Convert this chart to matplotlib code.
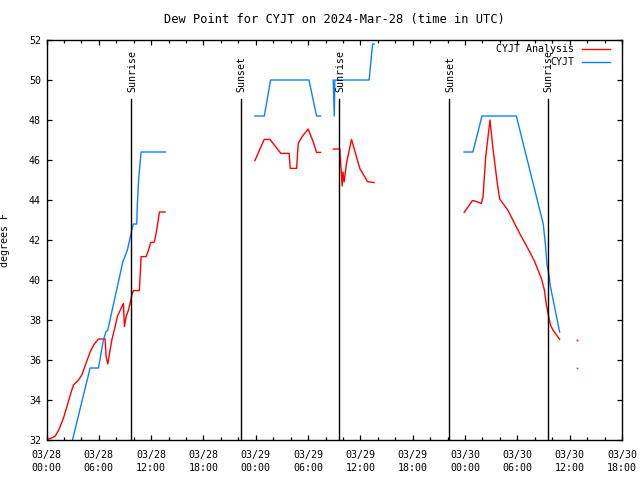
import numpy as np
import matplotlib
matplotlib.use('Agg')
import matplotlib.pyplot as plt

nan = np.nan

# hours since 2024-03-28 00:00 UTC, dew point in F (NaN = gap)
ana_h = [0.05, 0.6, 1.0, 1.4, 1.95, 2.9, 3.1, 3.67, 4.05, 5.0, 5.4, 5.96, 6.72, 6.84, 7.03,
         7.18, 7.49, 7.87, 8.14, 8.82, 8.94, 9.13, 9.4, 9.67, 9.78, 9.97, 10.65, 10.85,
         11.42, 11.68, 11.95, 12.37, 12.64, 12.95, 13.6, nan,
         23.9, 24.97, 25.62, 26.88, 27.83, 27.95, 28.68, 28.87, 29.25, 30.0, 30.58, 30.97,
         31.43, nan,
         32.88, 33.64, 33.9, 34.0, 34.13, 34.4, 34.98, 35.93, 36.81, 37.57, nan,
         47.9, 48.84, 49.1, 49.87, 50.06, 50.37, 50.86, 51.2, 51.7, 51.97, 52.9, 54.26,
         55.4, 55.98, 56.75, 57.1, 57.3, 57.55, 57.8, 58.08, 58.85]
ana_v = [32.03, 32.1, 32.2, 32.5, 33.1, 34.5, 34.75, 35.0, 35.25, 36.4, 36.75, 37.05, 37.05,
         36.17, 35.8, 36.2, 37.0, 37.67, 38.2, 38.83, 37.67, 38.17, 38.5, 39.0, 39.25, 39.47,
         39.47, 41.17, 41.17, 41.47, 41.87, 41.9, 42.5, 43.4, 43.4, nan,
         45.97, 47.03, 47.03, 46.33, 46.33, 45.58, 45.58, 46.83, 47.13, 47.55, 46.92, 46.38,
         46.38, nan,
         46.55, 46.55, 44.7, 45.4, 44.9, 45.83, 47.03, 45.58, 44.92, 44.87, nan,
         43.38, 43.97, 43.95, 43.83, 44.17, 46.17, 48.0, 46.58, 44.83, 44.05, 43.5, 42.33,
         41.42, 40.92, 40.08, 39.5, 38.83, 38.25, 37.75, 37.5, 37.03]
ana_dot_h = [60.8]
ana_dot_v = [37.0]

obs_h = [2.98, 5.0, 5.96, 6.53, 6.8, 7.03, 8.75, 9.28, 9.78, 9.97, 10.35, 10.42, 10.58,
         10.85, 13.63, nan,
         23.9, 24.98, 25.7, 30.1, 30.97, 31.43, nan,
         32.88, 33.0, 33.07, 37.0, 37.4, 37.57, nan,
         47.9, 48.9, 49.94, 53.88, 56.97, 57.24, 57.4, 57.63, 57.79, 58.85]
obs_v = [32.0, 35.6, 35.6, 37.0, 37.4, 37.5, 40.9, 41.5, 42.5, 42.8, 42.8, 43.8, 45.1,
         46.4, 46.4, nan,
         48.2, 48.2, 50.0, 50.0, 48.2, 48.2, nan,
         50.0, 48.2, 50.0, 50.0, 51.8, 51.8, nan,
         46.4, 46.4, 48.2, 48.2, 42.8, 41.67, 40.75, 40.25, 39.67, 37.4]
obs_dot_h = [60.8]
obs_dot_v = [35.6]

sun_h = [9.74, 22.25, 33.6, 46.2, 57.5]
sun_lbl = ['Sunrise', 'Sunset', 'Sunrise', 'Sunset', 'Sunrise']

xtick_h = list(range(0, 67, 6))
xtick_lbl = ['03/28\n00:00', '03/28\n06:00', '03/28\n12:00', '03/28\n18:00',
             '03/29\n00:00', '03/29\n06:00', '03/29\n12:00', '03/29\n18:00',
             '03/30\n00:00', '03/30\n06:00', '03/30\n12:00', '03/30\n18:00']

red = '#ff0000'
blue = '#0a80ff'

plt.rcParams['font.family'] = ['DejaVu Sans Mono']
plt.rcParams['font.size'] = 7.2

fig = plt.figure(figsize=(6.4, 4.8), dpi=100)
ax = fig.add_axes([46.5 / 640, 40 / 480, 575.5 / 640, 400 / 480])

ax.plot(ana_h, ana_v, color=red, lw=1.0)
ax.plot(obs_h, obs_v, color=blue, lw=1.0)
ax.plot(ana_dot_h, ana_dot_v, 's', color=red, ms=1.2, mew=0)
ax.plot(obs_dot_h, obs_dot_v, 's', color=blue, ms=1.2, mew=0)

for h, lbl in zip(sun_h, sun_lbl):
    ax.plot([h, h], [32, 49.05], color='black', lw=1.0)
    ax.text(h + 0.1, 49.4, lbl, rotation=90, ha='center', va='bottom')

ax.set_xlim(0, 66)
ax.set_ylim(32, 52)
ax.set_xticks(xtick_h)
ax.set_xticklabels(xtick_lbl, linespacing=1.35)
ax.set_xticks(np.arange(0, 67, 2), minor=True)
ax.set_yticks(np.arange(32, 53, 2))
ax.tick_params(which='major', direction='in', length=3.8, width=0.9,
               top=True, right=True, pad=4)
ax.tick_params(which='minor', direction='in', length=2.2, width=0.9,
               top=True, right=True)
ax.tick_params(axis='x', pad=7.5)
for s in ax.spines.values():
    s.set_linewidth(1.0)

ax.set_ylabel('degrees F')
ax.yaxis.set_label_coords(-0.063, 0.5)
ax.set_title('Dew Point for CYJT on 2024-Mar-28 (time in UTC)', pad=12)

# key, gnuplot style: right-aligned text then sample line
for i, (name, c) in enumerate([('CYJT Analysis', red), ('CYJT', blue)]):
    yk = 0.9775 - i * 0.0325
    ax.text(0.9166, yk, name, transform=ax.transAxes, ha='right', va='center')
    ax.plot([0.930, 0.979], [yk, yk], color=c, lw=1.0, transform=ax.transAxes,
            clip_on=False)

fig.savefig('out.png', dpi=100)
